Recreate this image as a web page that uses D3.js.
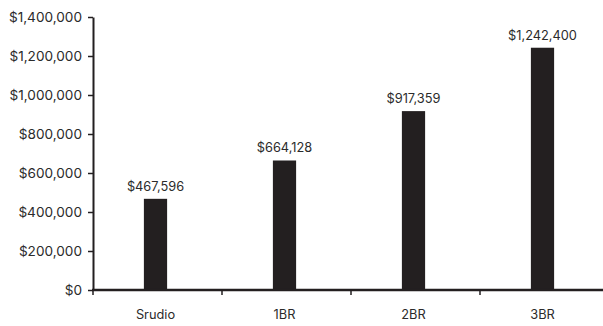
<!DOCTYPE html>
<html>
<head>
<meta charset="utf-8">
<script src="https://cdn.jsdelivr.net/npm/d3@7"></script>
<style>
  html, body { margin: 0; padding: 0; background: #fff; }
  svg text { font-family: "Inter", "Lato", sans-serif; fill: #2b2b2b; }
</style>
</head>
<body>
<svg id="chart" width="603" height="326"></svg>
<script>
// data
const categories = ["Srudio", "1BR", "2BR", "3BR"];
const prices = [467596, 664128, 917359, 1242400];
const yTicks = [0, 200000, 400000, 600000, 800000, 1000000, 1200000, 1400000];

const svg = d3.select("#chart");
const inkColor = "#231f20";
const textColor = "#2b2b2b";

const x = d3.scaleBand()
    .domain(categories)
    .range([93, 609])
    .padding(0);

const y = d3.scaleLinear()
    .domain([0, 1400000])
    .range([290, 17]);

const money = v => "$" + d3.format(",")(v);

// bars
const barW = x.bandwidth() * 0.18;
svg.append("g")
    .selectAll("rect")
    .data(prices)
    .enter()
    .append("rect")
    .attr("x", (d, i) => x(categories[i]) + x.bandwidth() / 2 - barW / 2 - 2)
    .attr("y", d => y(d))
    .attr("width", barW)
    .attr("height", d => y(0) - y(d))
    .attr("fill", inkColor);

// value labels
svg.append("g")
    .selectAll("text")
    .data(prices)
    .enter()
    .append("text")
    .attr("x", (d, i) => x(categories[i]) + x.bandwidth() / 2 - 2)
    .attr("y", d => y(d) - 8)
    .attr("text-anchor", "middle")
    .style("font-size", "12.8px")
    .text(d => money(d));

// y axis
const yAxis = svg.append("g")
    .attr("transform", "translate(93,0)")
    .call(d3.axisLeft(y).tickValues(yTicks).tickFormat(money).tickSize(5).tickSizeOuter(0).tickPadding(6));
yAxis.select(".domain").attr("stroke", inkColor).attr("stroke-width", 2);
yAxis.selectAll(".tick line").attr("stroke", inkColor).attr("stroke-width", 1.5);
yAxis.selectAll(".tick text").style("font-size", "13.6px").attr("fill", textColor);

// x axis
const xAxis = svg.append("g")
    .attr("transform", "translate(0,290)");
xAxis.append("line")
    .attr("x1", 92).attr("x2", 603)
    .attr("stroke", inkColor).attr("stroke-width", 2.5);
xAxis.selectAll(".xtick")
    .data(categories)
    .enter()
    .append("line")
    .attr("x1", d => x(d)).attr("x2", d => x(d))
    .attr("y1", 0).attr("y2", 5)
    .attr("stroke", inkColor).attr("stroke-width", 1.5);
xAxis.selectAll(".xlabel")
    .data(categories)
    .enter()
    .append("text")
    .attr("x", d => x(d) + x.bandwidth() / 2 - 2)
    .attr("y", 29)
    .attr("text-anchor", "middle")
    .style("font-size", "12.8px")
    .text(d => d);
</script>
</body>
</html>
